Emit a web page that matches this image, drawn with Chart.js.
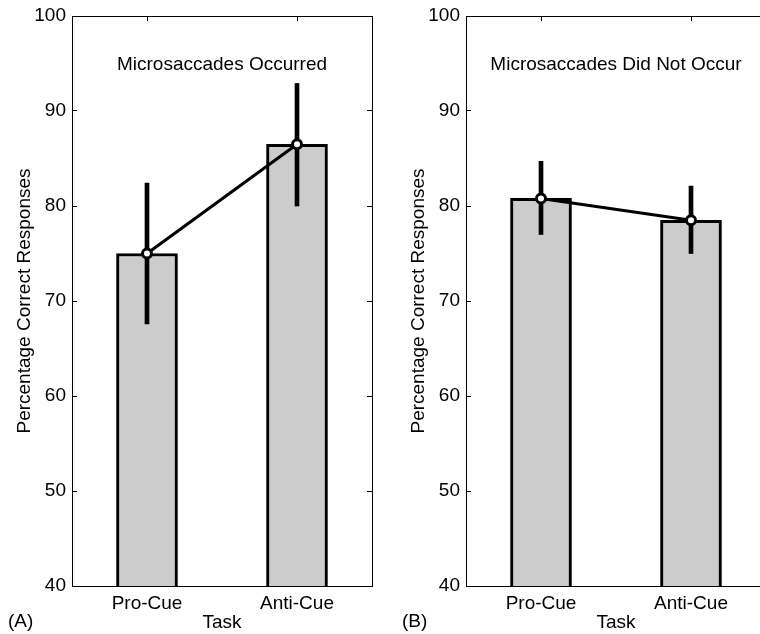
<!DOCTYPE html>
<html>
<head>
<meta charset="utf-8">
<script src="https://cdn.jsdelivr.net/npm/chart.js@4/dist/chart.umd.min.js"></script>
<style>
  html, body { margin: 0; padding: 0; background: #fff; overflow: hidden; width: 760px; height: 634px; }
  .panel { position: absolute; top: 0; height: 634px; overflow: hidden; }
</style>
</head>
<body>
<div class="panel" style="left:0; width:394px"><canvas id="panelA" width="394" height="634"></canvas></div>
<div class="panel" style="left:394px; width:366px"><canvas id="panelB" width="394" height="634"></canvas></div>
<script>
// data
const tasks = ['Pro-Cue', 'Anti-Cue'];
const occurredMean = [75.0, 86.5];
const occurredLow = [67.6, 80.0];
const occurredHigh = [82.4, 92.9];
const notOccurredMean = [80.8, 78.5];
const notOccurredLow = [77.0, 75.0];
const notOccurredHigh = [84.7, 82.1];
const yMin = 40, yMax = 100, yStep = 10;

const FONT = 'Liberation Sans, Arial, Helvetica, sans-serif';
const FS = 19;

// text inside the plot + panel letter
const panelText = {
  id: 'panelText',
  afterDatasetsDraw(chart, args, opts) {
    const ctx = chart.ctx, a = chart.chartArea;
    ctx.save();
    ctx.fillStyle = '#000';
    ctx.font = FS + 'px ' + FONT;
    ctx.textBaseline = 'middle';
    ctx.textAlign = 'center';
    ctx.fillText(opts.title, (a.left + a.right) / 2, a.top + 49);
    ctx.textAlign = 'left';
    ctx.fillText(opts.letter, 8, 622);
    ctx.restore();
  }
};

// rightFrame: panel B's right edge falls outside the picture
function makePanel(id, title, letter, mean, low, high, rightFrame) {
  const errRanges = low.map((l, i) => [l, high[i]]);
  return new Chart(document.getElementById(id), {
    type: 'bar',
    data: {
      labels: tasks,
      datasets: [
        {
          type: 'line',
          data: mean,
          borderColor: '#000',
          borderWidth: 3,
          pointRadius: 4.5,
          pointBorderWidth: 3,
          pointBackgroundColor: '#fff',
          pointBorderColor: '#000',
          order: 0
        },
        {
          data: errRanges,
          backgroundColor: '#000',
          borderWidth: 0,
          barThickness: 4,
          grouped: false,
          order: 1
        },
        {
          data: mean,
          backgroundColor: '#cccccc',
          borderColor: '#000',
          borderWidth: 3,
          barThickness: 61,
          grouped: false,
          order: 2
        }
      ]
    },
    options: {
      responsive: false,
      animation: false,
      devicePixelRatio: 1,
      layout: { padding: 0 },
      plugins: {
        legend: { display: false },
        tooltip: { enabled: false },
        panelText: { title: title, letter: letter }
      },
      scales: {
        x: {
          position: 'bottom',
          offset: true,
          grid: { offset: false, drawOnChartArea: false, tickLength: -5, color: '#000' },
          border: { color: '#000', width: 1 },
          ticks: { color: '#000', font: { family: FONT, size: FS }, padding: 11 },
          title: { display: true, text: 'Task', color: '#000', font: { family: FONT, size: FS }, padding: { top: 0, bottom: 0 } },
          afterFit: s => { s.height = 48; s.paddingLeft = 0; s.paddingRight = 0; }
        },
        x2: {
          type: 'category',
          position: 'top',
          offset: true,
          grid: { offset: false, drawOnChartArea: false, tickLength: -5, color: '#000' },
          border: { color: '#000', width: 1 },
          ticks: { display: false },
          afterFit: s => { s.height = 16; s.paddingLeft = 0; s.paddingRight = 0; }
        },
        y: {
          position: 'left',
          min: yMin,
          max: yMax,
          grid: { drawOnChartArea: false, tickLength: -5, color: '#000' },
          border: { color: '#000', width: 1 },
          ticks: { stepSize: yStep, color: '#000', font: { family: FONT, size: FS }, padding: 11 },
          title: { display: true, text: 'Percentage Correct Responses', color: '#000', font: { family: FONT, size: FS }, padding: { top: 13, bottom: 0 } },
          afterFit: s => { s.width = 72; s.paddingTop = 0; s.paddingBottom = 0; }
        },
        y2: {
          type: 'linear',
          position: 'right',
          min: yMin,
          max: yMax,
          grid: { display: rightFrame, drawOnChartArea: false, tickLength: -5, color: '#000' },
          border: { display: rightFrame, color: '#000', width: 1 },
          ticks: { stepSize: yStep, display: false },
          afterFit: s => { s.width = 22; s.paddingTop = 0; s.paddingBottom = 0; }
        }
      }
    },
    plugins: [panelText]
  });
}

makePanel('panelA', 'Microsaccades Occurred', '(A)', occurredMean, occurredLow, occurredHigh, true);
makePanel('panelB', 'Microsaccades Did Not Occur', '(B)', notOccurredMean, notOccurredLow, notOccurredHigh, false);
</script>
</body>
</html>
